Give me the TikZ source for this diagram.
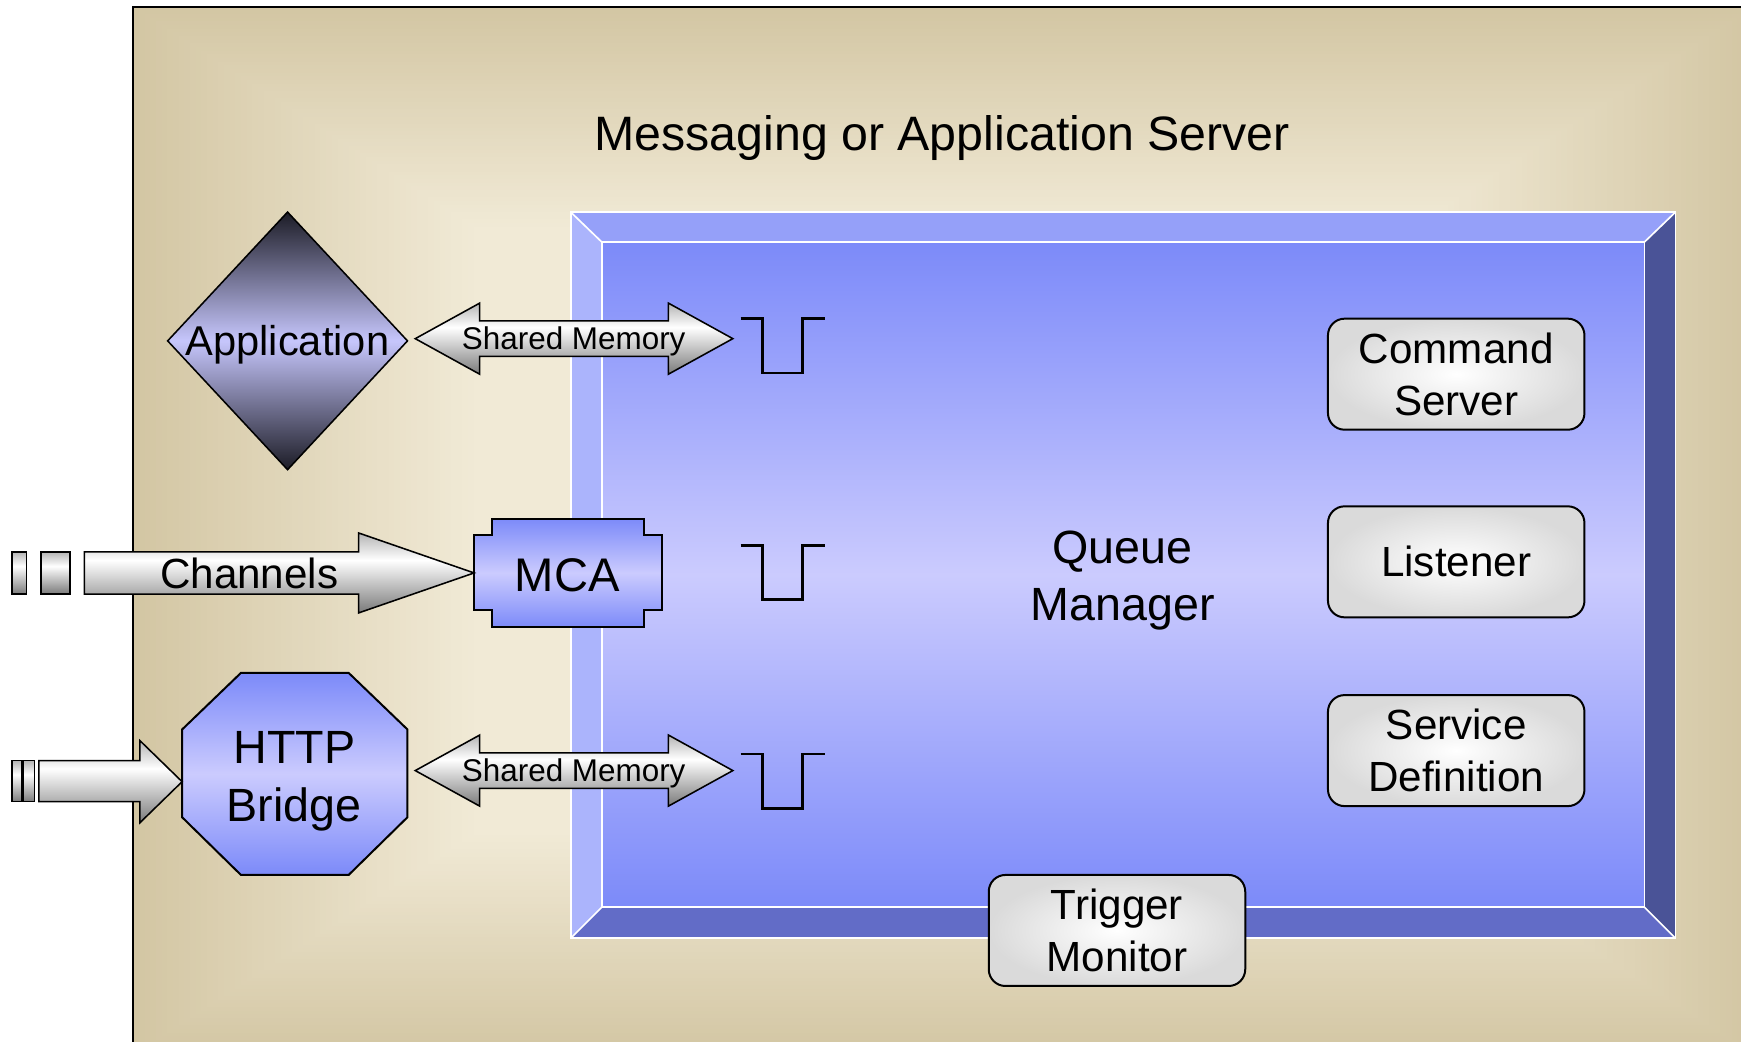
\documentclass[tikz,border=0pt]{standalone}
\usepackage{fontspec}
\setmainfont{Liberation Sans}
\usepackage{graphicx}

% palette
\definecolor{srvTan}{HTML}{D3C6A3}
\definecolor{srvCream}{HTML}{F1EAD6}
\definecolor{bevTop}{HTML}{95A0F9}
\definecolor{bevLeft}{HTML}{ABB4FC}
\definecolor{bevRight}{HTML}{4A5397}
\definecolor{bevBot}{HTML}{626CC7}
\definecolor{qEdge}{HTML}{7C8AF9}
\definecolor{qMid}{HTML}{CBCBFE}
\definecolor{boxGray}{HTML}{DADADA}
\definecolor{arrTop}{HTML}{B4B4B4}
\definecolor{arrBot}{HTML}{7A7A7A}
\definecolor{appDark}{HTML}{1C1C26}
\definecolor{appMid}{HTML}{C6C6FC}

% metallic fill for the block arrows: grey at the top, white just above the middle, darker grey below
\pgfdeclareverticalshading{arrshade}{100bp}{color(0bp)=(arrBot); color(25bp)=(arrBot); color(58bp)=(white); color(75bp)=(arrTop); color(100bp)=(arrTop)}

\begin{document}
\begin{tikzpicture}[x=1pt,y=-1pt,
  lbl/.style={inner sep=0pt, align=center},
  rbox/.style={draw=black, line width=1.8pt, rounded corners=15pt, inner color=white, outer color=boxGray,
               minimum width=231pt, minimum height=100pt, inner sep=0pt, align=center,
               font=\fontsize{38}{46.5}\selectfont},
  bluefill/.style={draw=black, line width=1.8pt, top color=qEdge, bottom color=qEdge, middle color=qMid},
  blockarrow/.style={draw=black, line width=1.4pt, shading=arrshade},
  queuemark/.style={draw=black, line width=2.5pt},
  bevline/.style={draw=white, line width=1.5pt, line join=miter},
]
\useasboundingbox (0,0) rectangle (1568,938);
\fill[white] (0,0) rectangle (1568,938);
\clip (0,0) rectangle (1568,938);

% ---- server enclosure: rectangular gradient, tan at the rim, cream in the centre
\foreach \i in {0,...,60}{
  \pgfmathsetmacro\f{0.42*\i/60}
  \pgfmathsetmacro\p{100*\i/60}
  \fill[srvCream!\p!srvTan] (120+730*\f, 6+472*\f) rectangle (1580-730*\f, 950-472*\f);
}
\draw[line width=2pt] (120,950) -- (120,6) -- (1580,6);
\node[lbl, font=\fontsize{43.5}{52}\selectfont, anchor=base] (title) at (848.5,135.1) {Messaging or Application Server};

% ---- queue manager: bevelled panel
\coordinate (qo1) at (514,191); \coordinate (qo2) at (1509,191);
\coordinate (qo3) at (1509,845); \coordinate (qo4) at (514,845);
\coordinate (qi1) at (542,218); \coordinate (qi2) at (1481,218);
\coordinate (qi3) at (1481,817); \coordinate (qi4) at (542,817);
\fill[bevTop]   (qo1) -- (qo2) -- (qi2) -- (qi1) -- cycle;
\fill[bevLeft]  (qo1) -- (qi1) -- (qi4) -- (qo4) -- cycle;
\fill[bevRight] (qo2) -- (qo3) -- (qi3) -- (qi2) -- cycle;
\fill[bevBot]   (qo4) -- (qo3) -- (qi3) -- (qi4) -- cycle;
\path[top color=qEdge, bottom color=qEdge, middle color=qMid] (qi1) rectangle (qi3);
\draw[bevline] (qo1) rectangle (qo3);
\draw[bevline] (qi1) rectangle (qi3);
\draw[bevline] (qo1) -- (qi1) (qo2) -- (qi2) (qo3) -- (qi3) (qo4) -- (qi4);
\node[lbl, font=\fontsize{42}{51}\selectfont] (qmgr) at (1011,522.6) {Queue\\Manager};

% ---- queues
\draw[queuemark] (667,287) -- (687,287) -- (687,336) -- (723,336) -- (723,287) -- (743,287);
\draw[queuemark] (667,491) -- (687,491) -- (687,540) -- (723,540) -- (723,491) -- (743,491);
\draw[queuemark] (667,679) -- (687,679) -- (687,728) -- (723,728) -- (723,679) -- (743,679);

% ---- services inside the queue manager
\node[rbox] (cmdsrv)  at (1311.5,337) {Command\\Server};
\node[rbox] (listen)  at (1311.5,506) {Listener};
\node[rbox] (svcdef)  at (1311.5,676) {Service\\Definition};
\node[rbox] (trigmon) at (1006,838)   {Trigger\\Monitor};

% ---- application
\path[draw=black, line width=1.4pt, top color=appDark, bottom color=appDark, middle color=appMid]
  (259,191) -- (367,307) -- (259,423) -- (151,307) -- cycle;
\node[lbl, font=\fontsize{37.5}{45}\selectfont, anchor=base] (app) at (258.8,320.3) {Application};

% ---- MCA
\path[bluefill] (443,467) -- (580,467) -- (580,482) -- (596,482) -- (596,549) -- (580,549)
  -- (580,565) -- (443,565) -- (443,549) -- (427,549) -- (427,482) -- (443,482) -- cycle;
\node[lbl, font=\fontsize{42.5}{51}\selectfont, anchor=base] (mca) at (511,532.3) {MCA};

% ---- HTTP bridge
\path[bluefill] (217,606) -- (314,606) -- (367,657) -- (367,736) -- (314,788) -- (217,788)
  -- (164,736) -- (164,657) -- cycle;
\node[lbl, font=\fontsize{42}{52}\selectfont] (http) at (265,703.4) {HTTP\\Bridge};

% ---- shared memory links
\path[blockarrow] (374,305) -- (432,273) -- (432,289) -- (602,289) -- (602,273) -- (660,305)
  -- (602,337) -- (602,321) -- (432,321) -- (432,337) -- cycle;
\node[lbl, font=\fontsize{28.3}{34}\selectfont, anchor=base] (shm1) at (516.7,314.6) {Shared Memory};
\path[blockarrow] (374,694) -- (432,662) -- (432,678) -- (602,678) -- (602,662) -- (660,694)
  -- (602,726) -- (602,710) -- (432,710) -- (432,726) -- cycle;
\node[lbl, font=\fontsize{28.3}{34}\selectfont, anchor=base] (shm2) at (516.7,703.6) {Shared Memory};

% ---- channels into the MCA (striped arrow)
\path[blockarrow] (11,497) rectangle (24,535);
\path[blockarrow] (37,497) rectangle (63,535);
\path[blockarrow] (76,497) -- (323,497) -- (323,480) -- (427,516) -- (323,552) -- (323,535)
  -- (76,535) -- cycle;
\node[lbl, font=\fontsize{38}{46}\selectfont, anchor=base] (chan) at (224.5,529.9) {Channels};

% ---- inbound HTTP (striped arrow)
\path[blockarrow] (11,685) rectangle (20,722);
\path[blockarrow] (21,685) rectangle (31,722);
\path[blockarrow] (35,685) -- (126,685) -- (126,667) -- (164,704) -- (126,741) -- (126,722)
  -- (35,722) -- cycle;
\end{tikzpicture}
\end{document}
